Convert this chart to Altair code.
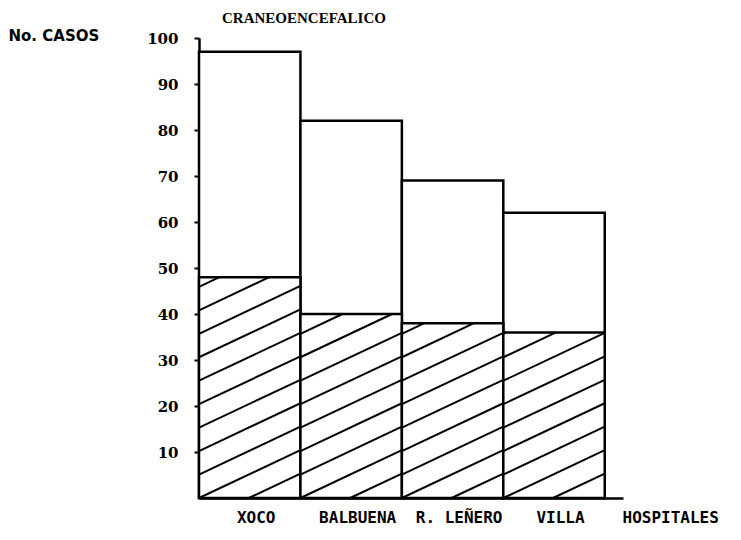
import json
import numpy as np
import pandas as pd
import altair as alt

# ---- data ----
categories = ["XOCO", "BALBUENA", "R. LEÑERO", "VILLA"]
total_cases = [97, 82, 69, 62]
hatched_cases = [48, 40, 38, 36]
y_tick_values = [10, 20, 30, 40, 50, 60, 70, 80, 90, 100]

# hatch texture (in data units: rise per bar width, vertical step)
HATCH_SLOPE = 10.4
HATCH_STEP = 5.1

bars = pd.DataFrame({
    "cat": categories,
    "x0": [i for i in range(len(categories))],
    "x1": [i + 1 for i in range(len(categories))],
    "total": total_cases,
    "hatched": hatched_cases,
    "base": [0] * len(categories),
})

segs = []
for i, h in enumerate(hatched_cases):
    n_min = int(np.floor(-HATCH_SLOPE / HATCH_STEP))
    n_max = int(np.ceil(h / HATCH_STEP))
    for n in range(n_min, n_max + 1):
        c = n * HATCH_STEP
        t0 = max(0.0, -c / HATCH_SLOPE)
        t1 = min(1.0, (h - c) / HATCH_SLOPE)
        if t1 - t0 > 0.02:
            segs.append({
                "x": i + t0, "x2": i + t1,
                "y": c + HATCH_SLOPE * t0, "y2": c + HATCH_SLOPE * t1,
            })
hatch = pd.DataFrame(segs)

xscale = alt.Scale(domain=[0, 4.18], nice=False, zero=False)
yscale = alt.Scale(domain=[0, 100], nice=False)

label_expr = json.dumps(categories) + "[floor(datum.value)]"

x_axis = alt.Axis(
    values=[i + 0.5 for i in range(len(categories))],
    labelExpr=label_expr,
    ticks=False, grid=False,
    domain=True, domainColor="black", domainWidth=2.5,
    labelFont="DejaVu Sans Mono", labelFontWeight="bold", labelFontSize=16,
    labelColor="black", labelPadding=11, labelOffset=6,
    title="HOSPITALES", titleFont="DejaVu Sans Mono", titleFontWeight="bold",
    titleFontSize=16, titleColor="black", titleX=423, titleY=11,
    titleAlign="left", titleBaseline="top", titleAngle=0,
)

y_axis = alt.Axis(
    values=y_tick_values, grid=False,
    domain=True, domainColor="black", domainWidth=2.5,
    ticks=True, tickSize=5, tickColor="black", tickWidth=2,
    labelFont="DejaVu Serif", labelFontWeight="bold", labelFontSize=15,
    labelColor="black", labelPadding=16,
    title="No. CASOS", titleFont="DejaVu Sans", titleFontWeight="bold",
    titleFontSize=15, titleColor="black", titleAngle=0,
    titleX=-191, titleY=-3, titleAlign="left", titleBaseline="middle",
)

total_layer = alt.Chart(bars).mark_rect(
    fill="white", stroke="black", strokeWidth=2.5
).encode(
    x=alt.X("x0:Q", scale=xscale, axis=x_axis),
    x2="x1:Q",
    y=alt.Y("total:Q", scale=yscale, axis=y_axis),
    y2="base:Q",
)

hatched_layer = alt.Chart(bars).mark_rect(
    fill="white", stroke="black", strokeWidth=2.5
).encode(
    x=alt.X("x0:Q", scale=xscale),
    x2="x1:Q",
    y=alt.Y("hatched:Q", scale=yscale),
    y2="base:Q",
)

hatch_layer = alt.Chart(hatch).mark_rule(
    color="black", strokeWidth=2
).encode(
    x=alt.X("x:Q", scale=xscale),
    x2="x2:Q",
    y=alt.Y("y:Q", scale=yscale),
    y2="y2:Q",
)

chart = alt.layer(total_layer, hatched_layer, hatch_layer).properties(
    width=424,
    height=460,
    autosize=alt.AutoSizeParams(type="none"),
    padding={"left": 191, "top": 30, "right": 105, "bottom": 32},
    background="white",
    title=alt.TitleParams(
        text="CRANEOENCEFALICO", anchor="start", frame="group",
        dx=23, dy=10, offset=0, baseline="alphabetic",
        font="Liberation Serif", fontWeight="bold", fontSize=15, color="black",
    ),
).configure_view(stroke=None)

chart.save("out.html", embed_options={"renderer": "svg", "actions": False})
